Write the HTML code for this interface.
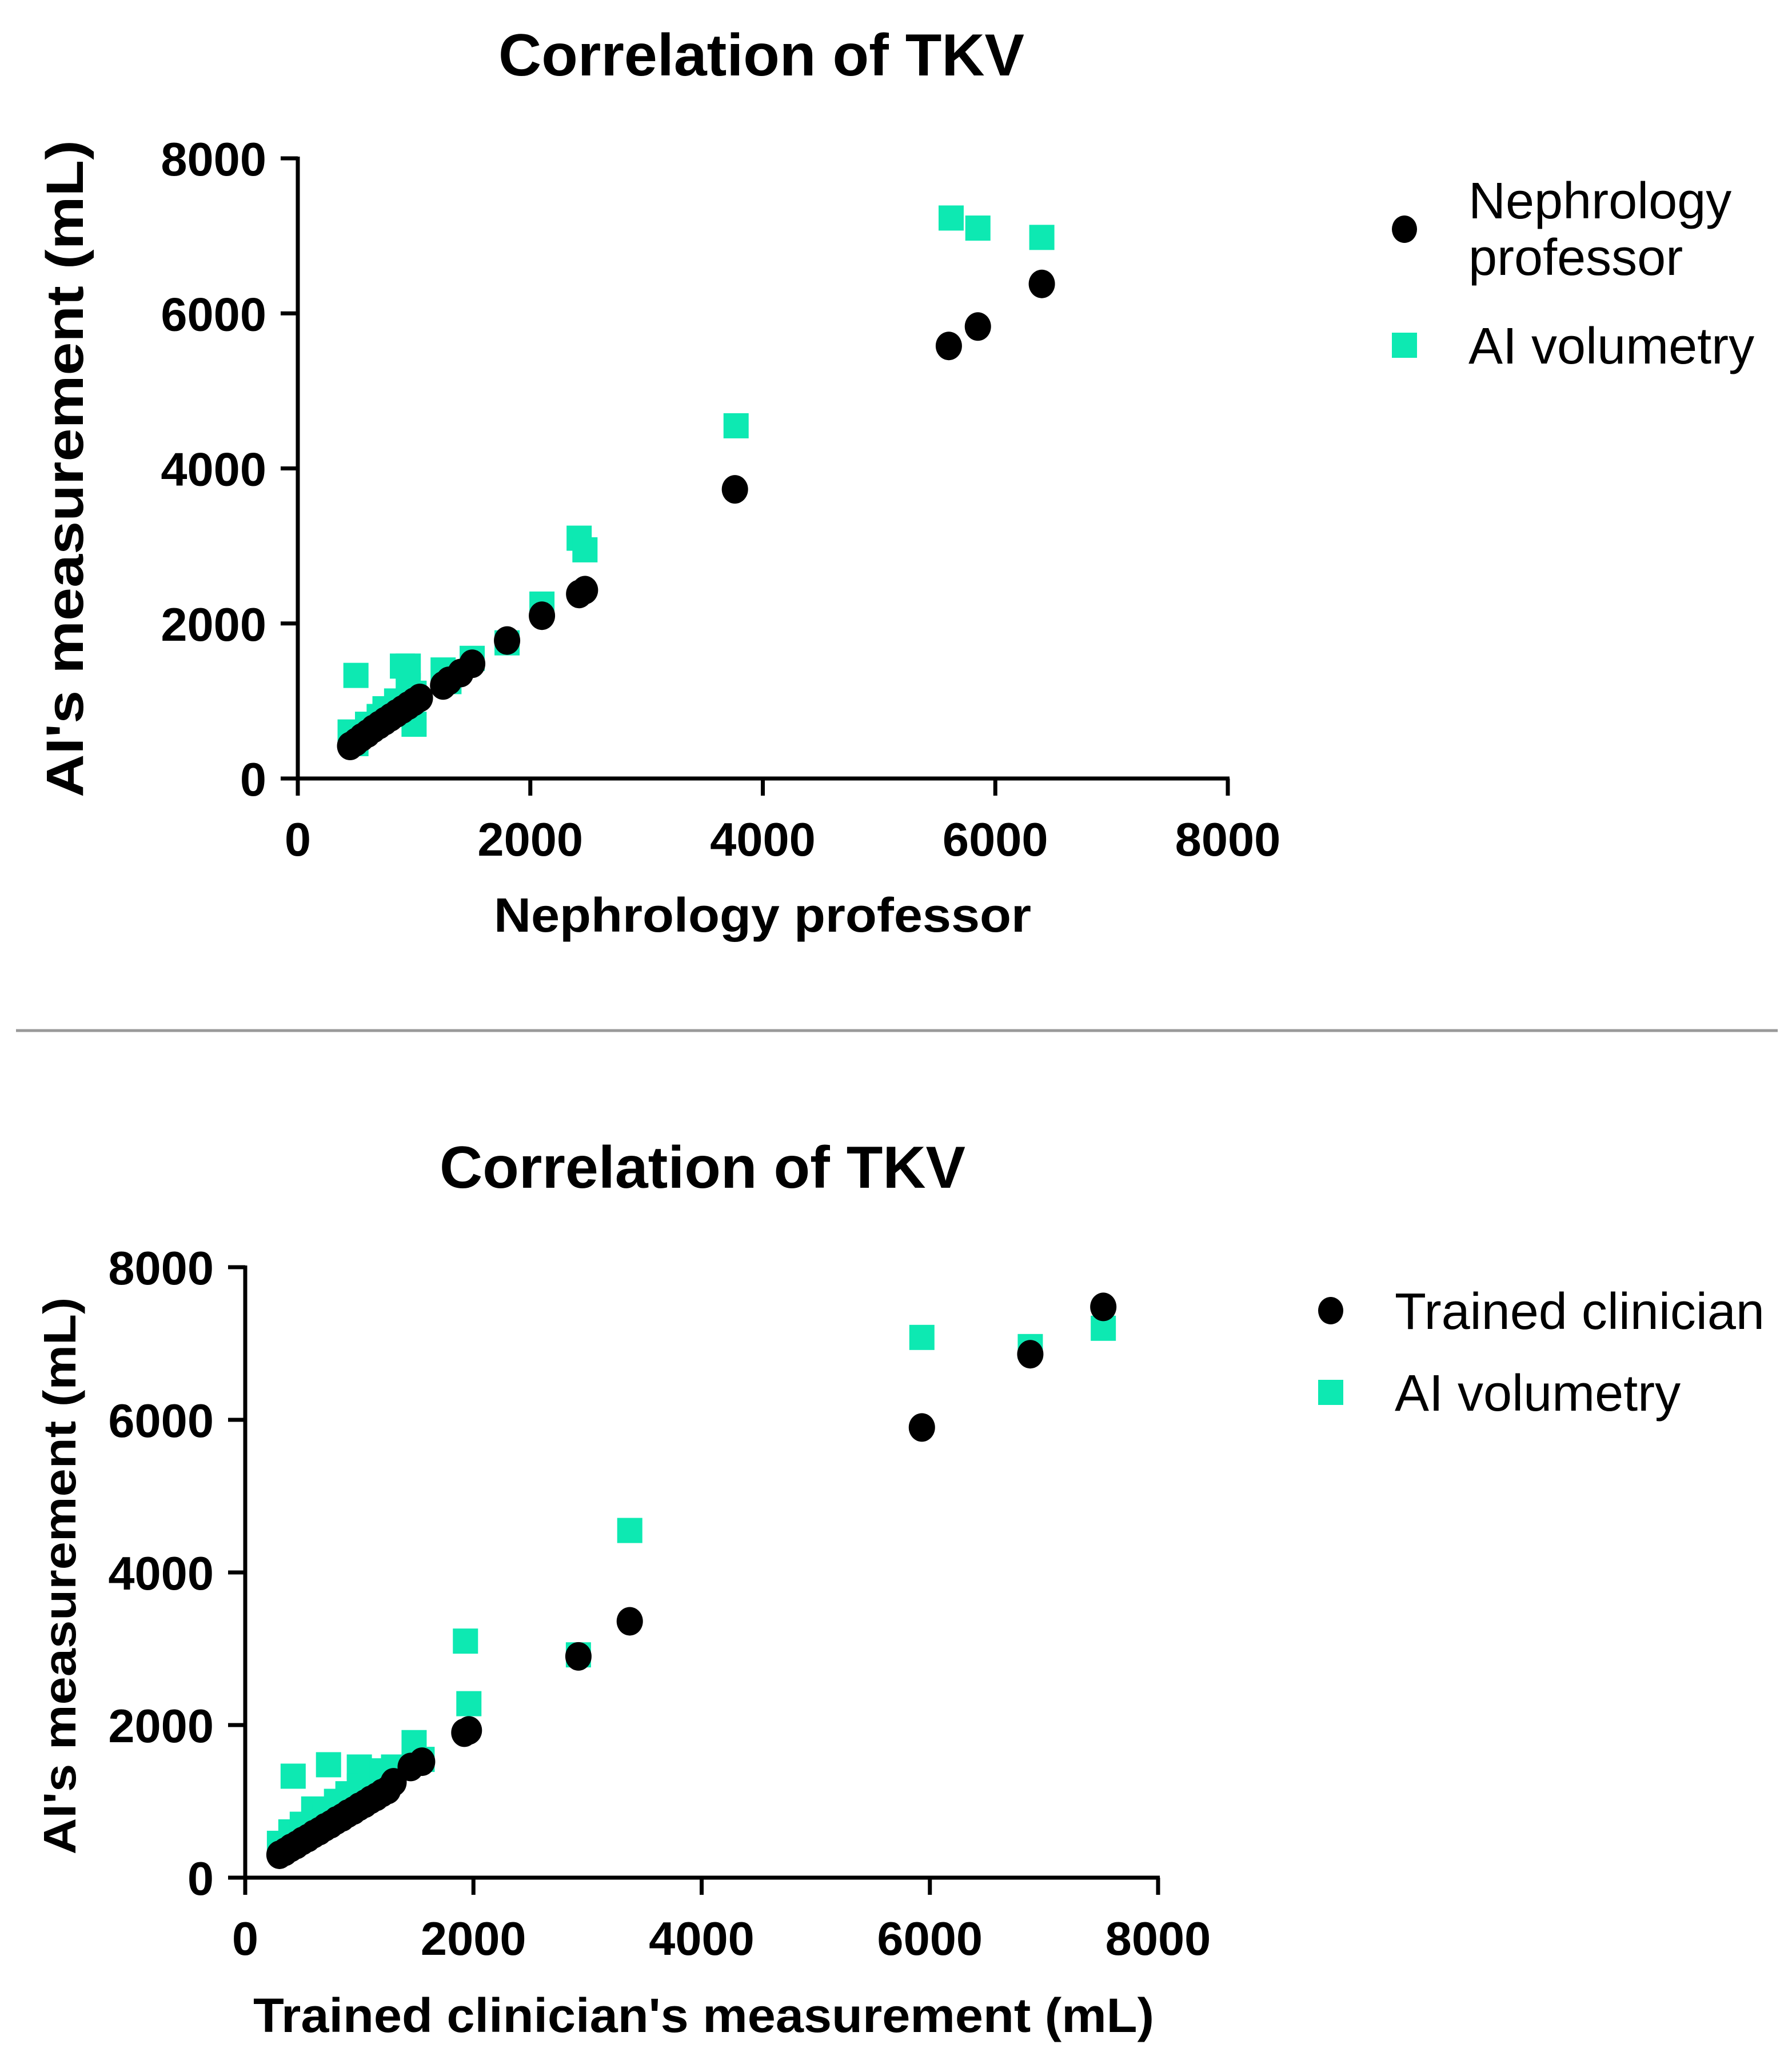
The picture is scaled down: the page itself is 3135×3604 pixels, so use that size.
<!DOCTYPE html>
<html><head><meta charset="utf-8"><style>
html,body{margin:0;padding:0;background:#fff;width:3135px;height:3604px;overflow:hidden}
svg text{font-family:"Liberation Sans",Arial,sans-serif}
</style></head><body>
<svg id="svg" width="3135" height="3604" viewBox="0 0 3135 3604" xmlns="http://www.w3.org/2000/svg">
<line x1="28" y1="1803" x2="3110" y2="1803" stroke="#999" stroke-width="5"/>
<g id="c1"></g>
<g id="c2"></g>
</svg>
<script>
const ticks = [0, 2000, 4000, 6000, 8000];
const tickLabels = ["0", "2000", "4000", "6000", "8000"];

const profBlackX = [450, 500, 550, 600, 650, 700, 750, 800, 850, 900, 950, 1000, 1050, 1250, 1300, 1400, 1500, 1800, 2100, 2420, 2470, 3760, 5600, 5850, 6400];
const profBlackY = [420, 470, 530, 580, 640, 690, 740, 790, 840, 890, 940, 990, 1040, 1200, 1260, 1360, 1480, 1780, 2100, 2380, 2430, 3730, 5580, 5830, 6380];
const profTealX = [450, 500, 500, 600, 700, 750, 800, 850, 900, 950, 950, 1000, 1000, 1250, 1300, 1500, 1800, 2100, 2420, 2470, 3770, 5620, 5850, 6400];
const profTealY = [600, 450, 1330, 700, 800, 900, 850, 1000, 1450, 1450, 1200, 700, 1100, 1400, 1250, 1550, 1750, 2250, 3100, 2950, 4550, 7230, 7100, 6980];

const clinBlackX = [300, 350, 400, 450, 500, 550, 600, 650, 700, 750, 800, 850, 900, 950, 1000, 1050, 1100, 1150, 1200, 1250, 1300, 1450, 1550, 1920, 1960, 2920, 3370, 5930, 6880, 7520];
const clinBlackY = [300, 340, 390, 430, 480, 520, 570, 610, 660, 700, 750, 790, 840, 880, 930, 970, 1020, 1060, 1110, 1150, 1250, 1450, 1520, 1900, 1930, 2900, 3360, 5900, 6860, 7480];
const clinTealX = [300, 420, 400, 500, 600, 700, 730, 800, 900, 1000, 1000, 1100, 1200, 1300, 1480, 1550, 1930, 1960, 2920, 3370, 5930, 6880, 7520];
const clinTealY = [450, 1330, 600, 700, 900, 800, 1480, 1000, 1100, 1450, 1200, 1300, 1400, 1450, 1770, 1550, 3100, 2280, 2920, 4550, 7080, 6960, 7200];

const NS = "http://www.w3.org/2000/svg";
function mk(parent, tag, attrs, text) {
  const el = document.createElementNS(NS, tag);
  for (const k in attrs) el.setAttribute(k, attrs[k]);
  if (text !== undefined) el.textContent = text;
  parent.appendChild(el);
  return el;
}

function drawChart(g, cfg) {
  const sx = v => cfg.x0 + (v / 8000) * (cfg.x1 - cfg.x0);
  const sy = v => cfg.y0 - (v / 8000) * (cfg.y0 - cfg.y1);
  const t = mk(g, "text", {x: cfg.titleX, y: cfg.titleY, "text-anchor": "middle", "font-size": 104, "font-weight": "bold", textLength: 920, lengthAdjust: "spacingAndGlyphs"}, "Correlation of TKV");
  
  
  const ya = mk(g, "line", {x1: cfg.x0, y1: cfg.y0 + 3, x2: cfg.x0, y2: cfg.y1 - 3, stroke: "#000", "stroke-width": 7});
  
  
  const xa = mk(g, "line", {x1: cfg.x0 - 3, y1: cfg.y0, x2: cfg.x1 + 3, y2: cfg.y0, stroke: "#000", "stroke-width": 7});
  
  
  ticks.forEach((v, i) => {
    const yt = mk(g, "line", {x1: cfg.x0 - 30, y1: sy(v), x2: cfg.x0, y2: sy(v), stroke: "#000", "stroke-width": 7});
    
    
    const yl = mk(g, "text", {x: cfg.x0 - 55, y: sy(v) + 30, "text-anchor": "end", "font-size": 83, "font-weight": "bold"}, tickLabels[i]);
    
    
    const xt = mk(g, "line", {x1: sx(v), y1: cfg.y0, x2: sx(v), y2: cfg.y0 + 30, stroke: "#000", "stroke-width": 7});
    
    
    const xl = mk(g, "text", {x: sx(v), y: cfg.y0 + 135, "text-anchor": "middle", "font-size": 83, "font-weight": "bold"}, tickLabels[i]);
    
    
  });
  const xt = mk(g, "text", {x: cfg.xtX, y: cfg.xtY, "text-anchor": "middle", "font-size": 84, "font-weight": "bold", textLength: cfg.xtLen, lengthAdjust: "spacingAndGlyphs"}, cfg.xTitle);
  
  
  const yt = mk(g, "text", {x: 0, y: 0, "text-anchor": "middle", "font-size": cfg.ytSize, "font-weight": "bold", textLength: cfg.ytLen, lengthAdjust: "spacingAndGlyphs", transform: `translate(${cfg.ytX},${cfg.ytY}) rotate(-90)`}, "AI's measurement (mL)");
  
  
  cfg.tx.forEach((v, i) => {
    const s = mk(g, "rect", {x: sx(v) - 22, y: sy(cfg.ty[i]) - 22, width: 44, height: 44, fill: "#0de9b2"});
    
    
  });
  cfg.bx.forEach((v, i) => {
    const c = mk(g, "ellipse", {cx: sx(v), cy: sy(cfg.by[i]), rx: 23, ry: 25, fill: "#000"});
    
    
  });
  const lg = mk(g, "g", {});
  
  
  const ld = mk(lg, "ellipse", {cx: cfg.lgX, cy: cfg.lgY1, rx: 22, ry: 24, fill: "#000"});
  
  
  cfg.lgText1.forEach((line, i) => {
    const lt = mk(lg, "text", {x: cfg.lgX + 112, y: cfg.lgT1Y + i * 99, "font-size": 90}, line);
    
    
  });
  const ls = mk(lg, "rect", {x: cfg.lgX - 22, y: cfg.lgY2 - 22, width: 44, height: 44, fill: "#0de9b2"});
  
  
  const lt2 = mk(lg, "text", {x: cfg.lgX + 112, y: cfg.lgY2 + 32, "font-size": 90}, "AI volumetry");
  
  
}

drawChart(document.getElementById("c1"), {
  x0: 521, x1: 2148, y0: 1362, y1: 277, titleX: 1332, titleY: 132,
  xTitle: "Nephrology professor", xtX: 1334, xtY: 1630, xtLen: 940,
  ytX: 145, ytY: 820, ytLen: 1150, ytSize: 92,
  bx: profBlackX, by: profBlackY, tx: profTealX, ty: profTealY,
  lgX: 2457, lgY1: 401, lgText1: ["Nephrology", "professor"], lgT1Y: 382, lgY2: 604
});
drawChart(document.getElementById("c2"), {
  x0: 429, x1: 2026, y0: 3285, y1: 2217, titleX: 1229, titleY: 2078,
  xTitle: "Trained clinician's measurement (mL)", xtX: 1231, xtY: 3555, xtLen: 1576,
  ytX: 132, ytY: 2757, ytLen: 975, ytSize: 80,
  bx: clinBlackX, by: clinBlackY, tx: clinTealX, ty: clinTealY,
  lgX: 2328, lgY1: 2293, lgText1: ["Trained clinician"], lgT1Y: 2325, lgY2: 2436
});
</script>
</body></html>
